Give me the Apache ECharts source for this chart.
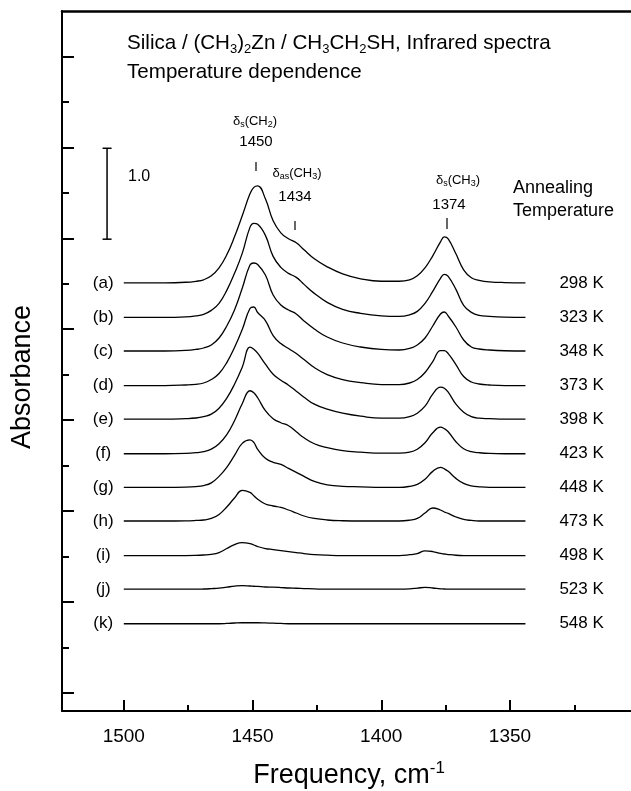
<!DOCTYPE html>
<html>
<head>
<meta charset="utf-8">
<title>Silica / (CH3)2Zn / CH3CH2SH, Infrared spectra</title>
<script src="https://cdn.jsdelivr.net/npm/echarts@6/dist/echarts.min.js"></script>
<style>
  html, body { margin: 0; padding: 0; background: #fff; }
  #chart { width: 631px; height: 791px; }
</style>
</head>
<body>
<div id="chart"></div>
<script>
// wavenumber (cm-1) sample points
const freq = [1500, 1484, 1476, 1472, 1469, 1466, 1463, 1460, 1457, 1454,
  1451, 1449.5, 1448, 1445, 1442, 1439, 1436, 1433, 1430, 1426,
  1421, 1415, 1408, 1400, 1393, 1389, 1386, 1383, 1380, 1377,
  1375.5, 1374, 1371, 1368, 1365, 1362, 1358, 1352, 1344]

const spectrumNames = ['(a)', '(b)', '(c)', '(d)', '(e)', '(f)', '(g)', '(h)', '(i)', '(j)', '(k)']
const temps = ['298 K', '323 K', '348 K', '373 K', '398 K', '423 K', '448 K', '473 K', '498 K', '523 K', '548 K']
// vertical offset (baseline) of each trace, absorbance units
const offsets = [4.71, 4.33, 3.96, 3.58, 3.21, 2.83, 2.46, 2.09, 1.71, 1.34, 0.96]

// absorbance above baseline, in mAU
const absA = [0, 0, 6, 17, 33, 77, 165, 308, 506, 737, 979, 1050, 1067, 924, 682, 550, 484, 440, 363, 264, 176, 99, 44, 17, 17, 33, 77, 165, 297, 451, 506, 484, 319, 143, 55, 28, 11, 3, 0]
const absB = [0, 0, 6, 17, 33, 77, 154, 297, 484, 704, 990, 1034, 1023, 902, 671, 550, 484, 440, 363, 264, 165, 88, 44, 17, 11, 28, 66, 154, 286, 429, 473, 451, 308, 132, 55, 22, 11, 3, 0]
const absC = [0, 0, 6, 17, 33, 66, 143, 275, 451, 690, 946, 968, 951, 836, 616, 506, 451, 407, 330, 242, 154, 88, 44, 17, 11, 28, 66, 143, 275, 407, 429, 385, 264, 121, 44, 22, 11, 3, 0]
const absD = [0, 0, 6, 13, 28, 66, 132, 253, 418, 616, 847, 864, 803, 715, 550, 462, 407, 352, 286, 198, 121, 66, 33, 11, 11, 28, 66, 143, 264, 385, 383, 352, 231, 99, 39, 17, 6, 0, 0]
const absE = [0, 0, 6, 13, 28, 55, 121, 231, 385, 572, 792, 770, 726, 605, 495, 429, 374, 308, 242, 165, 110, 66, 33, 11, 11, 28, 66, 143, 275, 352, 341, 297, 165, 77, 28, 11, 6, 0, 0]
const absF = [0, 0, 4, 11, 22, 50, 110, 209, 363, 550, 693, 671, 616, 473, 385, 341, 308, 242, 176, 110, 66, 33, 17, 6, 6, 17, 50, 121, 231, 292, 275, 242, 132, 55, 22, 11, 3, 0, 0]
const absG = [0, 0, 3, 9, 20, 50, 121, 220, 352, 484, 523, 495, 418, 319, 275, 253, 209, 165, 121, 66, 28, 11, 6, 0, 0, 11, 33, 88, 176, 220, 204, 176, 99, 44, 17, 6, 0, 0, 0]
const absH = [0, 0, 2, 6, 11, 28, 72, 154, 253, 336, 314, 278, 240, 187, 165, 149, 121, 88, 55, 28, 11, 3, 0, 0, 0, 9, 28, 88, 143, 121, 99, 83, 44, 17, 6, 0, 0, 0, 0]
const absI = [0, 0, 0, 2, 6, 13, 33, 77, 121, 143, 132, 116, 99, 77, 66, 55, 44, 33, 22, 11, 4, 0, 0, 0, 0, 9, 22, 52, 44, 24, 17, 11, 3, 0, 0, 0, 0, 0, 0]
const absJ = [0, 0, 0, 0, 2, 6, 11, 22, 33, 39, 35, 32, 30, 24, 22, 18, 13, 10, 7, 3, 0, 0, 0, 0, 0, 3, 11, 20, 13, 4, 2, 0, 0, 0, 0, 0, 0, 0, 0]
const absK = [0, 0, 0, 0, 0, 0, 0, 3, 8, 11, 11, 11, 11, 9, 6, 3, 0, 0, 0, 0, 0, 0, 0, 0, 0, 0, 0, 0, 0, 0, 0, 0, 0, 0, 0, 0, 0, 0, 0]
const spectra = [absA, absB, absC, absD, absE, absF, absG, absH, absI, absJ, absK]

// axis ticks
const majorX = [1500, 1450, 1400, 1350]
const minorX = [1475, 1425, 1375, 1325]
const majorY = [0.2, 1.2, 2.2, 3.2, 4.2, 5.2, 6.2, 7.2]
const minorY = [0.7, 1.7, 2.7, 3.7, 4.7, 5.7, 6.7]
// 1.0 absorbance scale bar
const scaleBarX = 1506.5
const scaleBar = [5.19, 6.19]
const nameX = 1508 // where (a)...(k) sit
const tempX = 1331 // where the temperatures start

const font = "'Liberation Sans', Arial, Helvetica, sans-serif"
const ink = '#000'

const chart = echarts.init(document.getElementById('chart'))

const lineSeries = spectra.map((vals, i) => ({
  type: 'line',
  name: spectrumNames[i],
  data: freq.map((f, j) => [f, +(offsets[i] + vals[j] / 1000).toFixed(4)]),
  showSymbol: false,
  smooth: 0.45,
  silent: true,
  lineStyle: { color: ink, width: 1.3 },
  z: 3
}))

function txt (x, y, text, size, align, extra) {
  return Object.assign({
    type: 'text',
    x: x,
    y: y,
    silent: true,
    style: {
      text: text,
      font: size + 'px ' + font,
      fill: ink,
      align: align || 'center',
      verticalAlign: 'middle'
    }
  }, extra || {})
}

function richTxt (x, y, text, size, subSize, align) {
  return {
    type: 'text',
    x: x,
    y: y,
    silent: true,
    style: {
      text: text,
      fill: ink,
      align: align || 'center',
      verticalAlign: 'middle',
      rich: {
        m: { fontSize: size, fontFamily: font, lineHeight: Math.round(size * 1.2), fill: ink },
        s: { fontSize: subSize, fontFamily: font, lineHeight: Math.round(subSize * 0.8), verticalAlign: 'bottom', fill: ink },
        u: { fontSize: subSize, fontFamily: font, lineHeight: Math.round(subSize * 0.8), verticalAlign: 'top', fill: ink }
      }
    }
  }
}

function tickMark (x, y1, y2) {
  return { type: 'line', silent: true, shape: { x1: x, y1: y1, x2: x, y2: y2 }, style: { stroke: ink, lineWidth: 1.2 } }
}

const labelSeries = (x, names, position) => ({
  type: 'scatter',
  data: offsets.map((o, i) => [x, o, names[i]]),
  symbolSize: 1,
  itemStyle: { color: 'rgba(0,0,0,0)', opacity: 1 },
  silent: true,
  label: {
    show: true,
    position: position,
    distance: 0,
    formatter: p => p.value[2],
    fontSize: 17,
    fontFamily: font,
    color: ink,
    opacity: 1
  }
})

const option = {
  animation: false,
  backgroundColor: '#fff',
  grid: { left: 62, right: 0, top: 11, bottom: 80 },
  xAxis: [
    {
      type: 'value', min: 1303, max: 1524, inverse: true, position: 'bottom',
      axisLine: { onZero: false, lineStyle: { color: ink, width: 2 } },
      axisTick: { inside: true, length: 11, customValues: majorX, lineStyle: { color: ink, width: 2 } },
      axisLabel: { customValues: majorX, formatter: v => String(v), fontSize: 19, fontFamily: font, color: ink, margin: 16 },
      splitLine: { show: false }
    },
    {
      type: 'value', min: 1303, max: 1524, inverse: true, position: 'bottom',
      axisLine: { show: false, onZero: false },
      axisTick: { inside: true, length: 6, customValues: minorX, lineStyle: { color: ink, width: 2 } },
      axisLabel: { show: false },
      splitLine: { show: false }
    },
    {
      type: 'value', min: 1303, max: 1524, inverse: true, position: 'top',
      axisLine: { onZero: false, lineStyle: { color: ink, width: 2.5 } },
      axisTick: { show: false },
      axisLabel: { show: false },
      splitLine: { show: false }
    }
  ],
  yAxis: [
    {
      type: 'value', min: 0, max: 7.7, position: 'left',
      axisLine: { show: true, onZero: false, lineStyle: { color: ink, width: 2 } },
      axisTick: { show: true, inside: true, length: 12, customValues: majorY, lineStyle: { color: ink, width: 2 } },
      axisLabel: { show: false },
      splitLine: { show: false }
    },
    {
      type: 'value', min: 0, max: 7.7, position: 'left',
      axisLine: { show: false, onZero: false },
      axisTick: { show: true, inside: true, length: 7, customValues: minorY, lineStyle: { color: ink, width: 2 } },
      axisLabel: { show: false },
      splitLine: { show: false }
    }
  ],
  series: lineSeries.concat([
    labelSeries(nameX, spectrumNames, 'inside'),
    labelSeries(tempX, temps, 'right'),
    {
      // scale bar
      type: 'line',
      data: scaleBar.map(v => [scaleBarX, v]),
      showSymbol: false,
      silent: true,
      lineStyle: { color: ink, width: 1.5 }
    },
    {
      type: 'scatter',
      data: scaleBar.map(v => [scaleBarX, v]),
      symbol: 'rect',
      symbolSize: [9, 1.5],
      silent: true,
      itemStyle: { color: ink, opacity: 1 }
    }
  ]),
  graphic: [
    richTxt(127, 43, '{m|Silica / (CH}{s|3}{m|)}{s|2}{m|Zn / CH}{s|3}{m|CH}{s|2}{m|SH, Infrared spectra}', 20.6, 13, 'left'),
    txt(127, 72, 'Temperature dependence', 20.6, 'left'),
    richTxt(255, 121, '{m|δ}{s|s}{m|(CH}{s|2}{m|)}', 13, 9),
    txt(256, 142, '1450', 15),
    tickMark(256, 162, 171),
    richTxt(297, 173, '{m|δ}{s|as}{m|(CH}{s|3}{m|)}', 13, 9),
    txt(295, 197, '1434', 15),
    tickMark(295, 221, 230),
    richTxt(458, 180, '{m|δ}{s|s}{m|(CH}{s|3}{m|)}', 13, 9),
    txt(449, 205, '1374', 15),
    tickMark(447, 218, 229),
    txt(513, 188, 'Annealing', 18, 'left'),
    txt(513, 211, 'Temperature', 18, 'left'),
    txt(128, 177, '1.0', 16, 'left'),
    txt(23, 377, 'Absorbance', 27, 'center', { rotation: Math.PI / 2 }),
    richTxt(349, 776, '{m|Frequency, cm}{u|-1}', 27, 17)
  ]
}

chart.setOption(option)
</script>
</body>
</html>
